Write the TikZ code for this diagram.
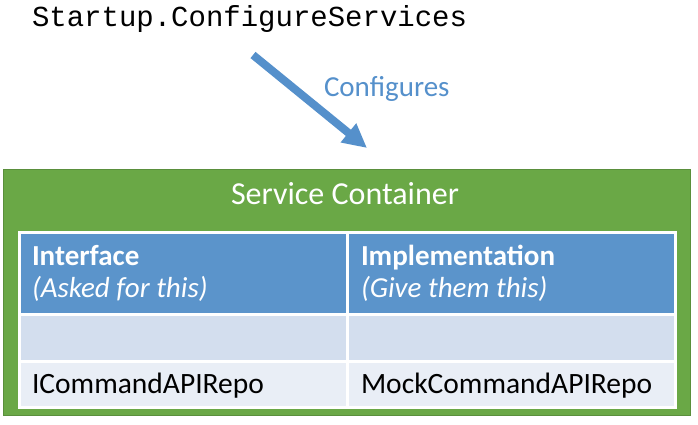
\documentclass[tikz,border=0pt]{standalone}
\usepackage{fontspec}
\setmainfont{Carlito}
\newfontfamily\codefont{Liberation Mono}
\usepackage{xcolor}
\usepackage{tikz}
\usetikzlibrary{arrows.meta}
\definecolor{containergreen}{HTML}{6AA846}
\definecolor{containeredge}{HTML}{5A8F3C}
\definecolor{headerblue}{HTML}{5B94CB}
\definecolor{emptyrow}{HTML}{D3DEEE}
\definecolor{datarow}{HTML}{E9EEF6}
\definecolor{arrowblue}{HTML}{5590CB}
\colorlet{labelblue}{arrowblue}
\tikzset{
  every node/.append style={inner sep=0pt, outer sep=0pt},
  cell/.style={draw=white, line width=3pt, anchor=north west},
  txt/.style={anchor=base west, font=\fontsize{29.5}{34}\selectfont},
  cfgarrow/.style={line width=8pt, color=arrowblue, -{Triangle[length=24pt, width=23pt]}}
}

\begin{document}
\begin{tikzpicture}[x=1pt, y=-1pt]
    \useasboundingbox (0,0) rectangle (698,425);

    % Caller and the arrow into the container
    \node[anchor=base west, font=\codefont\fontsize{29}{34}\selectfont] (startup) at (32,27) {Startup.ConfigureServices};
    \coordinate (arrowfrom) at (253,55);
    \coordinate (arrowto) at (367,148);
    \draw[cfgarrow] (arrowfrom) -- (arrowto);
    \node[txt, text=labelblue, font=\fontsize{29}{34}\selectfont] (configures) at (324,97) {Configures};

    % Green container box
    \node[fill=containergreen, draw=containeredge, line width=1pt, anchor=north west,
          minimum width=687pt, minimum height=246pt] (container) at (3,169) {};
    \node[anchor=base, text=white, font=\fontsize{32}{38}\selectfont] (containertitle) at (345,204) {Service Container};

    % Table cells
    \node[cell, fill=headerblue, minimum width=328pt, minimum height=82pt] (hdrL) at (19,232) {};
    \node[cell, fill=headerblue, minimum width=328pt, minimum height=82pt] (hdrR) at (347,232) {};
    \node[cell, fill=emptyrow, minimum width=328pt, minimum height=47pt] (midL) at (19,314) {};
    \node[cell, fill=emptyrow, minimum width=328pt, minimum height=47pt] (midR) at (347,314) {};
    \node[cell, fill=datarow, minimum width=328pt, minimum height=46pt] (rowL) at (19,361) {};
    \node[cell, fill=datarow, minimum width=328pt, minimum height=46pt] (rowR) at (347,361) {};

    % Header texts
    \node[txt, text=white, font=\bfseries\fontsize{29}{34}\selectfont] (ifacehead) at (32,265) {Interface};
    \node[txt, text=white, font=\itshape\fontsize{29}{34}\selectfont] (ifacenote) at (32,297) {(Asked for this)};
    \node[txt, text=white, font=\bfseries\fontsize{29}{34}\selectfont] (implhead) at (361,265) {Implementation};
    \node[txt, text=white, font=\itshape\fontsize{29}{34}\selectfont] (implnote) at (361,297) {(Give them this)};

    % Registered service
    \node[txt] (ifacename) at (32,393) {ICommandAPIRepo};
    \node[txt] (implname) at (361,393) {MockCommandAPIRepo};
\end{tikzpicture}
\end{document}
